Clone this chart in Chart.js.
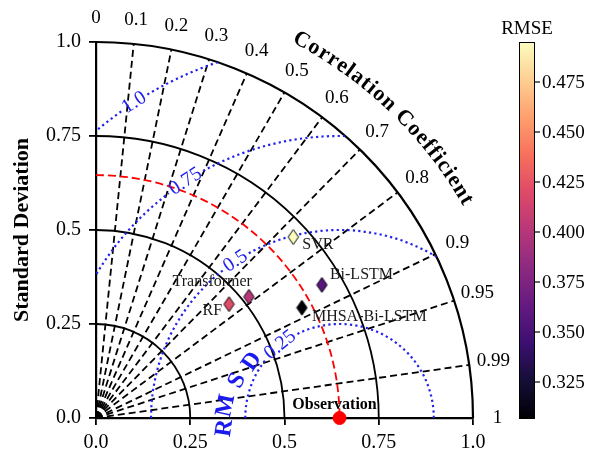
<!DOCTYPE html>
<html><head><meta charset="utf-8">
<script src="https://cdn.jsdelivr.net/npm/chart.js@4.4.0/dist/chart.umd.min.js"></script>
<style>html,body{margin:0;padding:0;background:#fff;}canvas{display:block;}</style>
</head><body>
<canvas id="c" width="596" height="462"></canvas>
<script>
// ---------- data ----------
const models = ['SVR', 'Bi-LSTM', 'Transformer', 'RF', 'MHSA-Bi-LSTM'];
const stdDevs = [0.711, 0.696, 0.518, 0.465, 0.620];
const correlations = [0.736, 0.861, 0.783, 0.759, 0.881];
const rmseValues = [0.495, 0.357, 0.401, 0.421, 0.307];
const obsStd = 0.646;
const obsLabel = 'Observation';
const axisTicks = [0, 0.25, 0.5, 0.75, 1.0];
const axisTickLabels = ['0.0', '0.25', '0.5', '0.75', '1.0'];
const corrTicks = [0, 0.1, 0.2, 0.3, 0.4, 0.5, 0.6, 0.7, 0.8, 0.9, 0.95, 0.99, 1];
const corrTickLabels = ['0', '0.1', '0.2', '0.3', '0.4', '0.5', '0.6', '0.7', '0.8', '0.9', '0.95', '0.99', '1'];
const stdArcs = [0.25, 0.5, 0.75, 1.0];
const rmsdLevels = [0.25, 0.5, 0.75, 1.0];
const rmsdLabels = ['0.25', '0.5', '0.75', '1.0'];
const cbTicks = [0.325, 0.350, 0.375, 0.400, 0.425, 0.450, 0.475];
const cbTickLabels = ['0.325', '0.350', '0.375', '0.400', '0.425', '0.450', '0.475'];
const cbMin = 0.3065, cbMax = 0.495;

// ---------- layout / style (not data) ----------
const SERIF = "'Liberation Serif', 'DejaVu Serif', serif";
const labelOffsets = [[9, 8, 'left'], [8, -10, 'left'], [3, -15, 'right'], [-7, 7, 'right'], [10, 9, 'left']];
const rmsdLabelAngles = [129, 123.5, 123, 123];
const rmsdTitleChars = [
  {ch: 'R', x: 0.342, y: -0.027, rot: -82},
  {ch: 'M', x: 0.345, y: 0.033, rot: -78},
  {ch: 'S', x: 0.375, y: 0.099, rot: -63},
  {ch: 'D', x: 0.414, y: 0.150, rot: -55}
];
const magmaStops = ['#000004', '#140e36', '#3b0f70', '#641a80', '#8c2981', '#b73779', '#de4968', '#f7705c', '#fe9f6d', '#fecf92', '#fcfdbf'];

function hexRgb(h) { return [parseInt(h.substr(1, 2), 16), parseInt(h.substr(3, 2), 16), parseInt(h.substr(5, 2), 16)]; }
function magma(t) {
  t = Math.max(0, Math.min(1, t));
  const s = t * 10, i = Math.min(9, Math.floor(s)), f = s - i;
  const a = hexRgb(magmaStops[i]), b = hexRgb(magmaStops[i + 1]);
  return 'rgb(' + a.map((v, k) => Math.round(v + (b[k] - v) * f)).join(',') + ')';
}
function diamond(color) {
  const c = document.createElement('canvas');
  c.width = 13; c.height = 17;
  const g = c.getContext('2d');
  g.beginPath(); g.moveTo(6.5, 1); g.lineTo(11.7, 8.5); g.lineTo(6.5, 16); g.lineTo(1.3, 8.5); g.closePath();
  g.fillStyle = color; g.fill(); g.lineWidth = 1; g.strokeStyle = '#000'; g.stroke();
  return c;
}

const modelPoints = models.map((m, i) => ({
  x: stdDevs[i] * correlations[i],
  y: stdDevs[i] * Math.sqrt(1 - correlations[i] * correlations[i])
}));
const modelStyles = rmseValues.map(v => diamond(magma((v - cbMin) / (cbMax - cbMin))));

const taylorPlugin = {
  id: 'taylor',
  beforeDatasetsDraw(chart) {
    const {ctx, scales: {x, y}} = chart;
    const X = v => x.getPixelForValue(v), Y = v => y.getPixelForValue(v);
    const ox = X(0), oy = Y(0), rx = X(1) - X(0), ry = Y(0) - Y(1);
    ctx.save();
    // correlation dashed rays
    ctx.strokeStyle = '#000'; ctx.lineWidth = 1.8; ctx.setLineDash([7, 4]);
    corrTicks.forEach(c => {
      if (c <= 0 || c >= 1) return;
      const th = Math.acos(c);
      ctx.beginPath(); ctx.moveTo(ox, oy); ctx.lineTo(X(Math.cos(th)), Y(Math.sin(th))); ctx.stroke();
    });
    // std dev arcs
    ctx.setLineDash([]);
    stdArcs.forEach(r => {
      ctx.lineWidth = r >= 1 ? 2.2 : 1.8;
      ctx.beginPath(); ctx.ellipse(ox, oy, r * rx, r * ry, 0, -Math.PI / 2, 0); ctx.stroke();
    });
    // observation std arc (red dashed)
    ctx.strokeStyle = '#ff0000'; ctx.lineWidth = 1.8; ctx.setLineDash([8, 4]);
    ctx.beginPath(); ctx.ellipse(ox, oy, obsStd * rx, obsStd * ry, 0, -Math.PI / 2, 0); ctx.stroke();
    ctx.restore();

    // RMSD contours (blue dotted) clipped to the quarter disc
    ctx.save();
    ctx.beginPath(); ctx.moveTo(ox, oy); ctx.ellipse(ox, oy, rx, ry, 0, -Math.PI / 2, 0); ctx.closePath(); ctx.clip();
    ctx.font = '20px ' + SERIF;
    const cx = X(obsStd);
    rmsdLevels.forEach((r, i) => {
      const w = ctx.measureText(rmsdLabels[i]).width;
      const thL = rmsdLabelAngles[i] * Math.PI / 180;
      const gap = (w / 2 + 3) / (r * rx);
      ctx.strokeStyle = '#2222ee'; ctx.lineWidth = 2.2; ctx.setLineDash([2.2, 3.2]);
      ctx.beginPath(); ctx.ellipse(cx, oy, r * rx, r * ry, 0, -(thL - gap), 0); ctx.stroke();
      ctx.beginPath(); ctx.ellipse(cx, oy, r * rx, r * ry, 0, -Math.PI, -(thL + gap)); ctx.stroke();
    });
    ctx.restore();

    // contour labels
    ctx.save();
    ctx.fillStyle = '#2222ee'; ctx.font = '20px ' + SERIF; ctx.textAlign = 'center'; ctx.textBaseline = 'middle';
    rmsdLevels.forEach((r, i) => {
      const th = rmsdLabelAngles[i] * Math.PI / 180;
      const px = X(obsStd + r * Math.cos(th)), py = Y(r * Math.sin(th));
      ctx.save(); ctx.translate(px, py); ctx.rotate(Math.PI / 2 - th); ctx.fillText(rmsdLabels[i], 0, 0); ctx.restore();
    });
    ctx.restore();
  },
  afterDatasetsDraw(chart) {
    const {ctx, scales: {x, y}, chartArea} = chart;
    const X = v => x.getPixelForValue(v), Y = v => y.getPixelForValue(v);
    const rx = X(1) - X(0);
    ctx.save();
    // correlation tick labels
    ctx.fillStyle = '#000'; ctx.font = '19px ' + SERIF; ctx.textAlign = 'center'; ctx.textBaseline = 'middle';
    corrTicks.forEach((c, i) => {
      const th = Math.acos(c);
      ctx.fillText(corrTickLabels[i], X(1.065 * Math.cos(th)), Y(1.065 * Math.sin(th)));
    });
    // curved title
    const title = 'Correlation Coefficient';
    ctx.font = 'bold 22px ' + SERIF;
    const R = 1.14 * rx;
    const widths = [...title].map(ch => ctx.measureText(ch).width);
    const natural = widths.reduce((a, b) => a + b, 0);
    const startA = 62.5 * Math.PI / 180, endA = 30.0 * Math.PI / 180;
    const extra = ((startA - endA) * R - natural) / (title.length - 1);
    let a = startA;
    [...title].forEach((ch, k) => {
      const half = widths[k] / 2 / R;
      const th = a - half;
      ctx.save();
      ctx.translate(X(0) + R * Math.cos(th), Y(0) - R * Math.sin(th));
      ctx.rotate(Math.PI / 2 - th);
      ctx.fillText(ch, 0, 0);
      ctx.restore();
      a -= (widths[k] + extra) / R;
    });
    // RMSD title
    ctx.fillStyle = '#1a1aee'; ctx.font = 'bold 24px ' + SERIF;
    rmsdTitleChars.forEach(c => {
      ctx.save(); ctx.translate(X(c.x), Y(c.y)); ctx.rotate(c.rot * Math.PI / 180); ctx.fillText(c.ch, 0, 0); ctx.restore();
    });
    // point labels
    const meta = chart.getDatasetMeta(0);
    ctx.fillStyle = '#1a1a1a'; ctx.font = '16px ' + SERIF; ctx.textBaseline = 'middle';
    models.forEach((m, i) => {
      const el = meta.data[i];
      const [dx, dy, al] = labelOffsets[i];
      ctx.textAlign = al;
      ctx.fillText(m, el.x + dx, el.y + dy);
    });
    const om = chart.getDatasetMeta(1).data[0];
    ctx.fillStyle = '#000'; ctx.font = 'bold 16px ' + SERIF; ctx.textAlign = 'center';
    ctx.fillText(obsLabel, om.x - 5, om.y - 13);

    // colorbar
    const cbL = chartArea.right + 46, cbW = 16, cbT = Y(1), cbB = Y(0) + 1;
    const grad = ctx.createLinearGradient(0, cbB, 0, cbT);
    magmaStops.forEach((c, k) => grad.addColorStop(k / 10, c));
    ctx.fillStyle = grad; ctx.fillRect(cbL, cbT, cbW, cbB - cbT);
    ctx.strokeStyle = '#000'; ctx.lineWidth = 1; ctx.strokeRect(cbL + 0.5, cbT + 0.5, cbW - 1, cbB - cbT - 1);
    ctx.fillStyle = '#000'; ctx.font = '19px ' + SERIF; ctx.textAlign = 'left'; ctx.textBaseline = 'middle';
    ctx.lineWidth = 1.2;
    cbTicks.forEach((v, k) => {
      const py = cbB - (v - cbMin) / (cbMax - cbMin) * (cbB - cbT);
      ctx.beginPath(); ctx.moveTo(cbL + cbW, py); ctx.lineTo(cbL + cbW + 5, py); ctx.stroke();
      ctx.fillText(cbTickLabels[k], cbL + cbW + 7, py + 1);
    });
    ctx.textAlign = 'center';
    ctx.fillText('RMSE', cbL + cbW / 2, cbT - 13);
    ctx.restore();
  }
};

const tickCfg = {
  font: {family: SERIF, size: 20}, color: '#000',
  callback: (v) => { const i = axisTicks.indexOf(v); return i >= 0 ? axisTickLabels[i] : ''; }
};
const gridCfg = {display: true, drawOnChartArea: false, drawTicks: true, tickLength: 7, color: '#000', lineWidth: 1.8};

new Chart(document.getElementById('c'), {
  type: 'scatter',
  data: {
    datasets: [
      {label: 'models', data: modelPoints, pointStyle: modelStyles, pointRadius: 7, clip: false},
      {label: 'obs', data: [{x: obsStd, y: 0}], pointStyle: 'circle', pointRadius: 6.5,
       backgroundColor: '#ff0000', borderColor: '#ff0000', clip: false}
    ]
  },
  options: {
    responsive: false, animation: false, devicePixelRatio: 1,
    layout: {padding: {left: 5, top: 42, right: 123, bottom: 0}},
    plugins: {legend: {display: false}, tooltip: {enabled: false}},
    scales: {
      x: {
        type: 'linear', min: 0, max: 1,
        afterBuildTicks: s => { s.ticks = axisTicks.map(v => ({value: v})); },
        afterFit: s => { s.height = 44; },
        ticks: Object.assign({padding: 6, maxRotation: 0}, tickCfg),
        grid: gridCfg, border: {display: true, color: '#000', width: 2.2}
      },
      y: {
        type: 'linear', min: 0, max: 1,
        afterBuildTicks: s => { s.ticks = axisTicks.map(v => ({value: v})); },
        afterFit: s => { s.width = 91; },
        ticks: Object.assign({padding: 8}, tickCfg),
        grid: gridCfg, border: {display: true, color: '#000', width: 2.2},
        title: {display: true, text: 'Standard Deviation', color: '#000',
                font: {family: SERIF, size: 22, weight: 'bold'}, padding: {top: 4, bottom: 4}}
      }
    }
  },
  plugins: [taylorPlugin]
});
</script>
</body></html>
